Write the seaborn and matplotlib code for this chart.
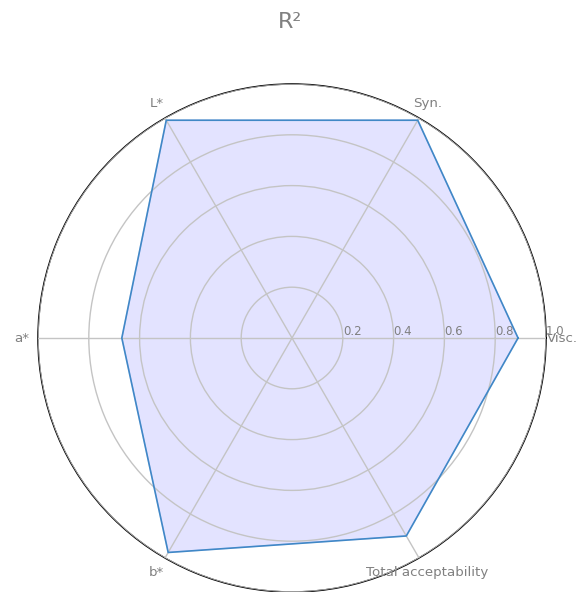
import numpy as np
import pandas as pd
import matplotlib
matplotlib.use("Agg")
import matplotlib.pyplot as plt
import seaborn as sns

# values
labels = ["Visc.", "Syn.", "L*", "a*", "b*", "Total acceptability"]
r2 = [0.89, 0.99, 0.99, 0.67, 0.975, 0.90]
rticks = [0.2, 0.4, 0.6, 0.8, 1.0]

sns.set_theme(style="white")
plt.rcParams["font.family"] = ["DejaVu Sans"]
plt.rcParams["text.color"] = "grey"
plt.rcParams["xtick.color"] = "grey"
plt.rcParams["ytick.color"] = "grey"

# close the polygon
angles = np.linspace(0, 2 * np.pi, len(labels), endpoint=False)
df = pd.DataFrame({"theta": np.append(angles, angles[0]), "r": r2 + [r2[0]]})

fig = plt.figure(figsize=(5.78, 5.92), dpi=100)
ax = fig.add_axes([38 / 578, 0.0, 508 / 578, 508 / 592], polar=True)

ax.fill(df["theta"], df["r"], color="blue", alpha=0.11, zorder=2)
sns.lineplot(data=df, x="theta", y="r", sort=False, estimator=None, ax=ax,
             color="#4088c6", lw=1.2, zorder=3)

ax.set_axisbelow(False)
ax.set_ylim(0, 1.0)
ax.set_yticks(rticks)
ax.set_yticklabels([f"{t:.1f}" for t in rticks], fontsize=8.5, color="grey")
ax.set_rlabel_position(0)
ax.set_thetagrids(np.degrees(angles), labels, fontsize=9.6, color="grey")
ax.tick_params(axis="x", pad=-1)
ax.grid(True, color="#c4c4c4", lw=1)
ax.spines["polar"].set_color("black")
ax.spines["polar"].set_linewidth(1.1)
ax.set_xlabel("")
ax.set_ylabel("")

fig.text(0.502, 0.962, "R\u00b2", ha="center", va="center", fontsize=16, color="grey")

fig.savefig("out.png", dpi=100)
